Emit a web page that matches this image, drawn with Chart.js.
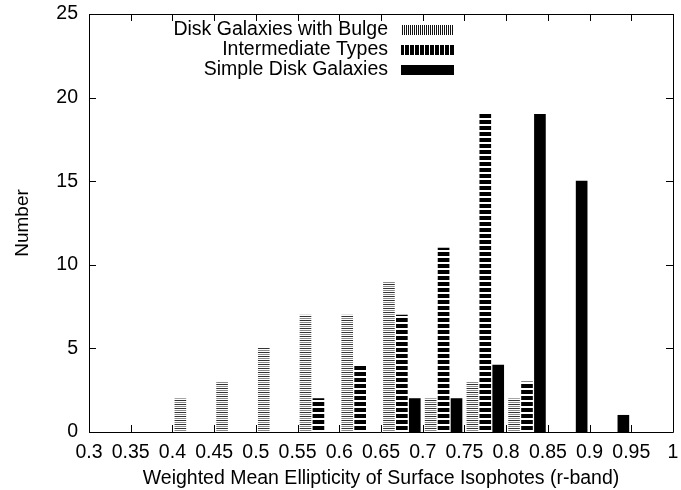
<!DOCTYPE html>
<html>
<head>
<meta charset="utf-8">
<title>Ellipticity histogram</title>
<script src="https://cdn.jsdelivr.net/npm/chart.js@4.4.1/dist/chart.umd.min.js"></script>
<style>
  html, body { margin: 0; padding: 0; background: #fff; }
  #wrap { width: 681px; height: 490px; }
</style>
</head>
<body>
<div id="wrap"><canvas id="chart" width="681" height="490"></canvas></div>
<script>
// histogram bins (lower edge of each 0.05 bin)
const bins = [0.30, 0.35, 0.40, 0.45, 0.50, 0.55, 0.60, 0.65, 0.70, 0.75, 0.80, 0.85, 0.90, 0.95];
// counts per bin for each class
const bulgeCounts = [0, 0, 2, 3, 5, 7, 7, 9, 2, 3, 2, 0, 0, 0];
const intermediateCounts = [0, 0, 0, 0, 0, 2, 4, 7, 11, 19, 3, 0, 0, 0];
const simpleCounts = [0, 0, 0, 0, 0, 0, 0, 2, 2, 4, 19, 15, 1, 0];
const seriesNames = ['Disk Galaxies with Bulge', 'Intermediate Types', 'Simple Disk Galaxies'];
const xTicks = [0.3, 0.35, 0.4, 0.45, 0.5, 0.55, 0.6, 0.65, 0.7, 0.75, 0.8, 0.85, 0.9, 0.95, 1];
const yTicks = [0, 5, 10, 15, 20, 25];

// where each class sits inside its bin
const barShift = [0.0095, 0.025, 0.0405];

const FONT = "'Liberation Sans', Arial, Helvetica, sans-serif";

// small helper to build a repeating fill pattern
function makePattern(w, h, paint) {
    const c = document.createElement('canvas')
    c.width = w
    c.height = h
    const g = c.getContext('2d')
    g.fillStyle = '#fff'
    g.fillRect(0, 0, w, h)
    paint(g)
    return g.createPattern(c, 'repeat')
}

// fills used inside the bars (horizontal stripes)
const bulgeFill = makePattern(1, 4, g => {
    g.fillStyle = '#333'; g.fillRect(0, 0, 1, 1)
    g.fillStyle = '#8a8a8a'; g.fillRect(0, 2, 1, 1)
})
const intermediateFill = makePattern(1, 6, g => {
    g.fillStyle = '#000'; g.fillRect(0, 0, 1, 4)
})
// fills used in the key (vertical stripes)
const bulgeKey = makePattern(2, 1, g => {
    g.fillStyle = '#111'; g.fillRect(0, 0, 1, 1)
})
const intermediateKey = makePattern(5, 1, g => {
    g.fillStyle = '#000'; g.fillRect(0, 0, 4, 1)
})
const keyFills = [bulgeKey, intermediateKey, '#000']

// empty bins get no bar at all
function toPoints(counts, shift) {
    return bins.map((b, i) => ({ x: b + shift, y: counts[i] })).filter(p => p.y > 0)
}

// frame with inward ticks on all four sides, plus the key
const framePlugin = {
    id: 'frame',
    afterDraw(chart) {
        const ctx = chart.ctx
        const a = chart.chartArea
        const xs = chart.scales.x
        const ys = chart.scales.y
        const len = 7
        ctx.save()
        ctx.strokeStyle = '#000'
        ctx.lineWidth = 1
        ctx.beginPath()
        ctx.rect(Math.round(a.left) + 0.5, Math.round(a.top) + 0.5,
            Math.round(a.right - a.left), Math.round(a.bottom - a.top))
        xTicks.forEach(v => {
            const px = Math.round(xs.getPixelForValue(v)) + 0.5
            ctx.moveTo(px, a.bottom); ctx.lineTo(px, a.bottom - len)
            ctx.moveTo(px, a.top); ctx.lineTo(px, a.top + len)
        })
        yTicks.forEach(v => {
            const py = Math.round(ys.getPixelForValue(v)) + 0.5
            ctx.moveTo(a.left, py); ctx.lineTo(a.left + len, py)
            ctx.moveTo(a.right, py); ctx.lineTo(a.right - len, py)
        })
        ctx.stroke()

        // key, text right-aligned with a sample box after it
        ctx.font = '19.5px ' + FONT
        ctx.textAlign = 'right'
        ctx.textBaseline = 'middle'
        chart.data.datasets.forEach((ds, i) => {
            const y = 30 + i * 20
            ctx.fillStyle = '#000'
            ctx.fillText(ds.label, 388, y)
            ctx.fillStyle = keyFills[i]
            ctx.fillRect(401, y - 5, 53, 10)
        })
        ctx.restore()
    }
}

new Chart(document.getElementById('chart'), {
    type: 'bar',
    data: {
        datasets: [
            { label: seriesNames[0], data: toPoints(bulgeCounts, barShift[0]), backgroundColor: bulgeFill },
            { label: seriesNames[1], data: toPoints(intermediateCounts, barShift[1]), backgroundColor: intermediateFill },
            { label: seriesNames[2], data: toPoints(simpleCounts, barShift[2]), backgroundColor: '#000' }
        ]
    },
    options: {
        responsive: false,
        animation: false,
        devicePixelRatio: 1,
        events: [],
        grouped: false,
        barThickness: 11,
        borderWidth: 0,
        layout: { padding: { top: 14, right: 8, left: 0, bottom: 0 } },
        plugins: {
            legend: { display: false },
            tooltip: { enabled: false }
        },
        scales: {
            x: {
                type: 'linear',
                min: 0.3,
                max: 1,
                offset: false,
                grid: { display: false, drawTicks: false },
                border: { display: false },
                afterBuildTicks: s => { s.ticks = xTicks.map(v => ({ value: v })) },
                afterFit: s => {
                    s.height = 58
                    s.paddingLeft = 0
                    s.paddingRight = 0
                },
                ticks: {
                    autoSkip: false,
                    maxRotation: 0,
                    padding: 9,
                    color: '#000',
                    font: { family: FONT, size: 19.5 },
                    callback: v => String(Number(v.toFixed(2)))
                },
                title: {
                    display: true,
                    text: 'Weighted Mean Ellipticity of Surface Isophotes (r-band)',
                    color: '#000',
                    font: { family: FONT, size: 19.5 },
                    padding: { top: 0, bottom: 0 }
                }
            },
            y: {
                min: 0,
                max: 25,
                grid: { display: false, drawTicks: false },
                border: { display: false },
                afterBuildTicks: s => { s.ticks = yTicks.map(v => ({ value: v })) },
                afterFit: s => {
                    s.width = 89
                    s.paddingTop = 0
                    s.paddingBottom = 0
                },
                ticks: {
                    padding: 11,
                    color: '#000',
                    font: { family: FONT, size: 19.5 }
                },
                title: {
                    display: true,
                    text: 'Number',
                    color: '#000',
                    font: { family: FONT, size: 19 },
                    padding: { top: 11, bottom: 0 }
                }
            }
        }
    },
    plugins: [framePlugin]
});
</script>
</body>
</html>
